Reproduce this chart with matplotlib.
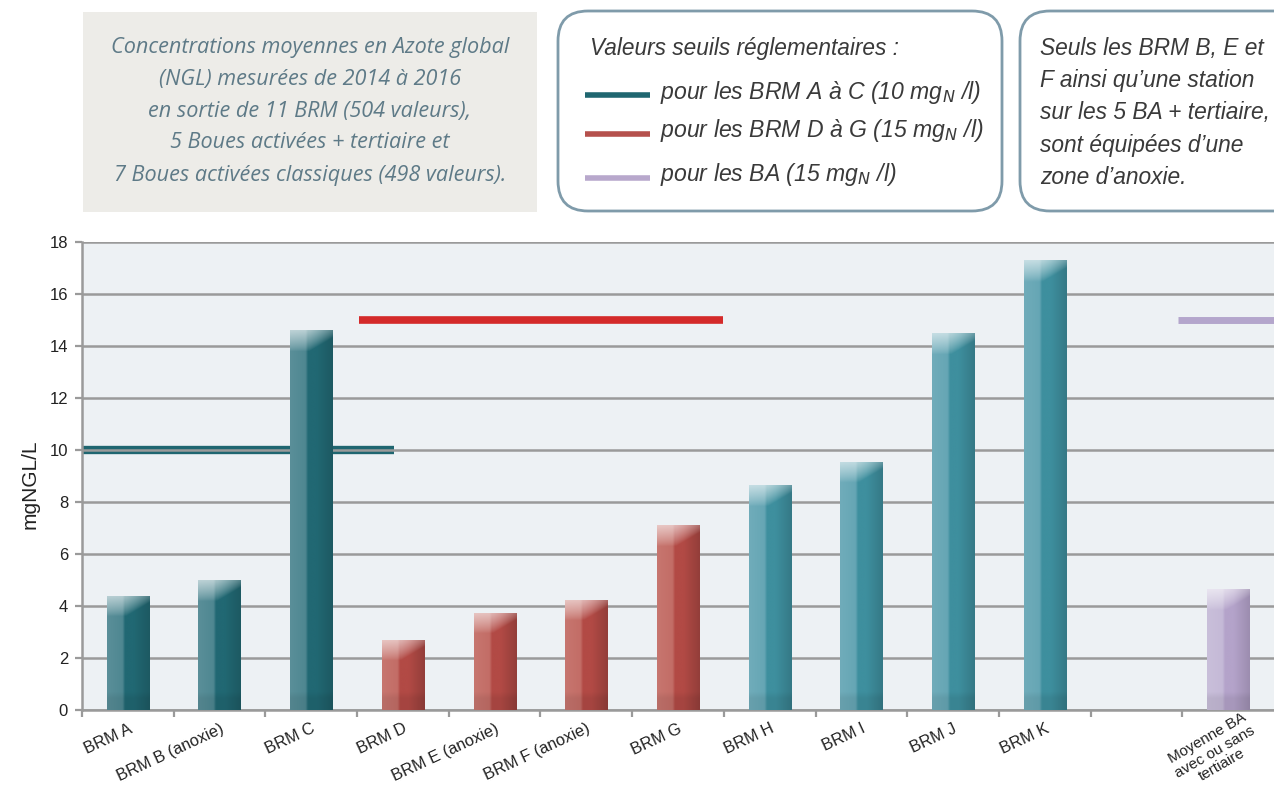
import numpy as np
import matplotlib
matplotlib.use("Agg")
import matplotlib.pyplot as plt
import matplotlib.transforms as mtransforms
from matplotlib.patches import FancyBboxPatch, Rectangle
from matplotlib.colors import to_rgb

# ---------------- data ----------------
categories = ["BRM A", "BRM B (anoxie)", "BRM C", "BRM D", "BRM E (anoxie)",
              "BRM F (anoxie)", "BRM G", "BRM H", "BRM I", "BRM J", "BRM K", "",
              "Moyenne BA\navec ou sans\ntertiaire"]
values = [4.4, 5.0, 14.6, 2.7, 3.75, 4.25, 7.1, 8.65, 9.55, 14.5, 17.3, None, 4.65]
groups = ["teal", "teal", "teal", "red", "red", "red", "red",
          "lteal", "lteal", "lteal", "lteal", None, "purple"]
threshold_values = [10, 15, 15]
yticks = [0, 2, 4, 6, 8, 10, 12, 14, 16, 18]

palette = {
    "teal": ("#5A8F99", "#216873", "#1D5962"),
    "red": ("#C7766F", "#B24A45", "#933E3A"),
    "lteal": ("#70ACBA", "#3E8F9E", "#357986"),
    "purple": ("#C9BFDA", "#B4A3CA", "#9C8DAF"),
}

W, H = 1274, 793
fig = plt.figure(figsize=(W / 100, H / 100), dpi=100)

TXT_FONT = ["Liberation Sans Narrow", "Liberation Sans", "DejaVu Sans"]
AX_FONT = ["Liberation Sans", "DejaVu Sans"]

# ---------------- overlay (pixel coordinates) ----------------
ov = fig.add_axes([0, 0, 1, 1])
ov.set_xlim(0, W)
ov.set_ylim(H, 0)
ov.axis("off")

ov.add_patch(Rectangle((83, 12), 454, 200, facecolor="#EDECE8", edgecolor="none"))
box1 = ["Concentrations moyennes en Azote global",
        "(NGL) mesurées de 2014 à 2016",
        "en sortie de 11 BRM (504 valeurs),",
        "5 Boues activées + tertiaire et",
        "7 Boues activées classiques (498 valeurs)."]
for i, line in enumerate(box1):
    ov.text(310, 47 + i * 32, line, ha="center", va="center", fontsize=15.6,
            style="italic", color="#5E7A87", family=["Open Sans", "DejaVu Sans"])

ov.add_patch(FancyBboxPatch((558, 11), 444, 200,
                            boxstyle="round,pad=0,rounding_size=30",
                            facecolor="white", edgecolor="#7F9BAA", lw=2))
ov.text(590, 48, "Valeurs seuils réglementaires :", ha="left", va="center",
        fontsize=16.3, style="italic", color="#3A3A3A", family=TXT_FONT)
legend_txt = [r"pour les BRM A à C (10 mg$_N$ /l)",
              r"pour les BRM D à G (15 mg$_N$ /l)",
              r"pour les BA (15 mg$_N$ /l)"]
legend_col = ["#1F6670", "#B5504C", "#B8A8CC"]
for i, (t, c) in enumerate(zip(legend_txt, legend_col)):
    yy = [95, 134, 178][i]
    ov.plot([585, 650], [yy, yy], color=c, lw=4, solid_capstyle="butt")
    ov.text(660, yy - 3, t, ha="left", va="center", fontsize=16.6,
            style="italic", color="#3A3A3A", family=TXT_FONT)

ov.add_patch(FancyBboxPatch((1020, 11), 300, 200,
                            boxstyle="round,pad=0,rounding_size=30",
                            facecolor="white", edgecolor="#7F9BAA", lw=2,
                            clip_on=True))
box3 = ["Seuls les BRM B, E et", "F ainsi qu\u2019une station",
        "sur les 5 BA + tertiaire,", "sont équipées d\u2019une", "zone d\u2019anoxie."]
for i, line in enumerate(box3):
    ov.text(1040, 48 + i * 32.5, line, ha="left", va="center", fontsize=16.4,
            style="italic", color="#3A3A3A", family=TXT_FONT)

# ---------------- main chart ----------------
ax = fig.add_axes([82 / W, 1 - 710 / H, 1 - 82 / W, (710 - 242) / H])
ax.set_facecolor("#EDF1F4")

bw = 0.46


def bar_rgba(h, light, mid, dark, nx=80, ny=400):
    L, M, D = (np.array(to_rgb(c)) for c in (light, mid, dark))
    xs = np.linspace(0, 1, nx)
    knots = [0, 0.36, 0.42, 0.62, 1.0]
    vals = [L, L * 0.8 + M * 0.2, M, M, D]
    row = np.stack([np.interp(xs, knots, [v[k] for v in vals]) for k in range(3)], axis=1)
    ys = np.linspace(h, 0, ny)
    img = np.tile(row[None, :, :], (ny, 1, 1))
    depth = (h - ys)[:, None]
    # top glint
    a = np.clip(1 - depth / 0.8 - 0.55 * np.clip(xs[None, :] - 0.45, 0, 1) * 2.2, 0, 1)
    a = 0.6 * a ** 0.8
    img = img * (1 - a[..., None]) + a[..., None]
    # bottom darker band (soft)
    b = np.clip((0.7 - ys[:, None]) / 0.25, 0, 1) * 0.07
    b = np.broadcast_to(b, (ny, nx))
    img = img * (1 - b[..., None])
    rgba = np.concatenate([img, np.ones((ny, nx, 1))], axis=2)
    return np.clip(rgba, 0, 1)


xpos = np.arange(len(categories))
for x, v, g in zip(xpos, values, groups):
    if v is None:
        continue
    light, mid, dark = palette[g]
    bars = ax.bar(x, v, width=bw, color=mid, zorder=2)
    im = ax.imshow(bar_rgba(v, light, mid, dark), extent=(x - bw / 2, x + bw / 2, 0, v),
                   aspect="auto", zorder=3, interpolation="bilinear")
    im.set_clip_path(bars[0])

# threshold lines
ax.hlines(threshold_values[0], -0.5, 2.9, color="#1F6670", lw=6, zorder=0.4)
ax.hlines(threshold_values[1], 2.52, 6.49, color="#D42A2A", lw=5.5, zorder=4)
ax.hlines(threshold_values[2], 11.45, 12.6, color="#B4A6CC", lw=5, zorder=4)

ax.set_xlim(-0.5, 12.5)
ax.set_ylim(0, 18)
ax.set_yticks(yticks)
ax.yaxis.grid(True, color="#9A9A9A", lw=1.8)
ax.set_axisbelow(True)

for s in ("top", "right"):
    ax.spines[s].set_visible(False)
for s in ("left", "bottom"):
    ax.spines[s].set_color("#9A9A9A")
    ax.spines[s].set_linewidth(1.8)

ax.set_xticks(xpos)
ax.set_xticklabels(categories, rotation=25, ha="right", rotation_mode="anchor",
                   multialignment="center", fontsize=11.8, color="#222222",
                   family=AX_FONT)
ax.set_xticks(np.arange(-0.5, 12.5, 1.0), minor=True)
ax.tick_params(axis="x", which="major", length=0, pad=8)
ax.tick_params(axis="x", which="minor", length=5, width=1.6, color="#9A9A9A",
               direction="out")
ax.tick_params(axis="y", length=5, width=1.6, color="#9A9A9A", labelsize=12,
               labelcolor="#222222", pad=5)
for lab in ax.get_yticklabels():
    lab.set_family(AX_FONT)

# last (multi-line) label: steeper, nudged like the reference
last = ax.get_xticklabels()[-1]
last.set_linespacing(1.12)
last.set_rotation(30)
last.set_fontsize(11)
last.set_transform(last.get_transform() +
                   mtransforms.ScaledTranslation(14 / 100, 11 / 100, fig.dpi_scale_trans))

fig.text(30 / W, 1 - 484 / H, "mgNGL/L", rotation=90, ha="center", va="center",
         fontsize=15, color="#222222", family=AX_FONT)

fig.savefig("out.png", dpi=100)
